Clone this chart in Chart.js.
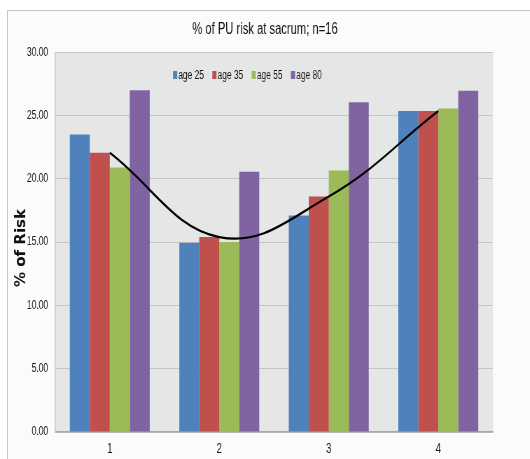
<!DOCTYPE html>
<html>
<head>
<meta charset="utf-8">
<script src="https://cdn.jsdelivr.net/npm/chart.js@4/dist/chart.umd.min.js"></script>
<style>
  html, body { margin: 0; padding: 0; background: #ffffff; overflow: hidden; }
  #wrap { position: relative; width: 530px; height: 459px; overflow: hidden; }
  #frame { position: absolute; left: 7px; top: 10px; width: 540px; height: 470px;
           border: 1px solid #c6c6c6; background: #fafbfd; box-sizing: border-box; }
  /* the chart is laid out wide and squeezed horizontally for a condensed look */
  #squeeze { position: absolute; left: 0; top: 0; width: 757px; height: 459px;
             transform: scaleX(0.7); transform-origin: 0 0; }
  canvas { position: absolute; left: 0; top: 0; }
</style>
</head>
<body>
<div id="wrap">
  <div id="frame"></div>
  <div id="squeeze"><canvas id="c" width="757" height="459"></canvas></div>
</div>
<script>
// Pressure-ulcer risk at the sacrum by position, per age group
const categories = ['1', '2', '3', '4'];
const seriesNames = ['age 25', 'age 35', 'age 55', 'age 80'];
const age25 = [23.5, 14.95, 17.1, 25.35];
const age35 = [22.05, 15.4, 18.6, 25.35];
const age55 = [20.9, 15.0, 20.65, 25.55];
const age80 = [27.0, 20.55, 26.05, 26.95];
const yTicks = [0, 5, 10, 15, 20, 25, 30];

const SQUEEZE = 0.7;
const colors = ['#4f81bd', '#c0504d', '#9bbb59', '#8064a2'];
const sans = "'Liberation Sans', Arial, sans-serif";

const seriesValues = [age25, age35, age55, age80];

const barSets = seriesValues.map((vals, i) => ({
  type: 'bar',
  label: seriesNames[i],
  data: vals,
  backgroundColor: colors[i],
  borderWidth: 0,
  categoryPercentage: 0.73,
  barPercentage: 1.0,
  yAxisID: 'y',
  order: 1
}));

// smooth trend curve through the age 35 series
const trendSet = {
  type: 'line',
  label: 'trend',
  data: age35,
  borderColor: '#000000',
  borderWidth: 2.3,
  pointRadius: 0,
  tension: 0.4,
  fill: false,
  yAxisID: 'y',
  order: 0
};

// grey plot background
const plotBg = {
  id: 'plotBg',
  beforeDraw(chart) {
    const a = chart.chartArea, ctx = chart.ctx;
    ctx.save();
    ctx.fillStyle = '#e5e7e7';
    ctx.fillRect(a.left, a.top, a.right - a.left, a.bottom - a.top);
    ctx.restore();
  }
};

// legend row inside the plot area
const innerLegend = {
  id: 'innerLegend',
  afterDraw(chart) {
    const ctx = chart.ctx;
    ctx.save();
    ctx.font = '12px ' + sans;
    ctx.textBaseline = 'middle';
    ctx.textAlign = 'left';
    let x = 173 / SQUEEZE;
    const y = 75;
    seriesNames.forEach((name, i) => {
      ctx.fillStyle = colors[i];
      ctx.fillRect(x, y - 4, 6, 8);
      ctx.fillStyle = '#111111';
      ctx.fillText(name, x + 7.5, y + 0.5);
      x += 39.3 / SQUEEZE;
    });
    ctx.restore();
  }
};

// vertical axis title, kept at natural proportions
const yTitle = {
  id: 'yTitle',
  afterDraw(chart) {
    const ctx = chart.ctx;
    ctx.save();
    ctx.translate(21 / SQUEEZE, 248);
    ctx.scale(1 / SQUEEZE, 1);
    ctx.rotate(-Math.PI / 2);
    ctx.font = "bold 15px 'DejaVu Sans', Verdana, sans-serif";
    ctx.fillStyle = '#111111';
    ctx.textAlign = 'center';
    ctx.textBaseline = 'middle';
    ctx.fillText('% of Risk', 0, 0);
    ctx.restore();
  }
};

new Chart(document.getElementById('c'), {
  data: { labels: categories, datasets: [...barSets, trendSet] },
  plugins: [plotBg, innerLegend, yTitle],
  options: {
    responsive: false,
    animation: false,
    layout: { padding: { left: 0, right: 0, top: 20, bottom: 0 } },
    plugins: {
      legend: { display: false },
      tooltip: { enabled: false },
      title: {
        display: true,
        text: '% of PU risk at sacrum; n=16',
        color: '#111111',
        font: { family: sans, size: 16, weight: 'normal', lineHeight: 1.2 },
        padding: { top: 0, bottom: 13 }
      }
    },
    scales: {
      x: {
        grid: { display: false, drawTicks: false },
        border: { display: true, color: '#a8a8a8', width: 1.4 },
        ticks: { color: '#1a1a1a', font: { family: sans, size: 14 }, padding: 9 },
        afterFit(s) { s.height = 27; }
      },
      y: {
        position: 'left',
        min: 0, max: 30,
        afterBuildTicks(s) { s.ticks = yTicks.map(v => ({ value: v })); },
        grid: { color: '#cbc3c3', lineWidth: 1, drawTicks: false },
        border: { display: true, color: '#c4c4c4', width: 1.4 },
        ticks: {
          color: '#1a1a1a',
          font: { family: sans, size: 12 },
          padding: 10,
          callback: v => Number(v).toFixed(2)
        },
        afterFit(s) { s.width = 78.6; }
      },
      // empty right-hand gutter
      yGap: {
        position: 'right',
        min: 0, max: 30,
        grid: { display: false, drawTicks: false },
        border: { display: false },
        ticks: { display: false },
        afterFit(s) { s.width = 52.7; }
      }
    }
  }
});
</script>
</body>
</html>
